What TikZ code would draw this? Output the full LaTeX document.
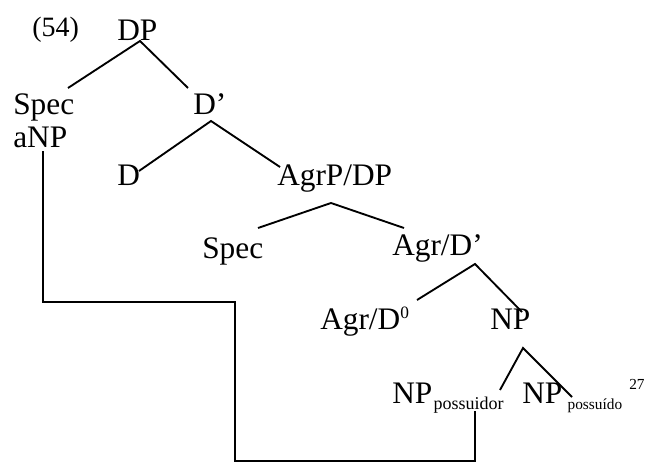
\documentclass[tikz,border=0pt]{standalone}
\usepackage{fontspec}
\setmainfont{Liberation Serif}
\begin{document}
\begin{tikzpicture}[x=0.75pt,y=-0.75pt,
  lbl/.style={inner sep=0pt,anchor=base west,font=\fontsize{23.5}{27}\selectfont},
  numlbl/.style={inner sep=0pt,anchor=base west,font=\fontsize{21}{25}\selectfont},
  branch/.style={line width=1.4pt},
  link/.style={line width=1.4pt,line cap=rect}]
\useasboundingbox (0,0) rectangle (660,463);
\newcommand{\subtxt}[2]{\raisebox{-4.5pt}{\fontsize{#1}{16}\selectfont #2}}

% labels
\node[numlbl] (ex) at (32,37) {(54)};
\node[lbl] (dp) at (117,41) {DP};
\node[lbl] (spec1) at (13,115) {Spec};
\node[lbl] (anp) at (13,148) {aNP};
\node[lbl] (dbar) at (193,115) {D’};
\node[lbl] (d) at (117,186) {D};
\node[lbl] (agrp) at (277,186) {AgrP/DP};
\node[lbl] (spec2) at (202,258) {Spec};
\node[lbl] (agrbar) at (392,256) {Agr/D’};
\node[lbl] (agrd) at (320,329) {Agr/D\raisebox{8pt}{\fontsize{13}{15}\selectfont 0}};
\node[lbl] (np) at (490,329) {NP};
\node[lbl] (npa) at (392,403) {NP\kern1pt\subtxt{13.5}{possuidor}};
\node[lbl] (npb) at (522,403) {NP\kern4pt\subtxt{11.5}{possuído}};
\node[inner sep=0pt,anchor=base west,font=\fontsize{11.5}{14}\selectfont] (fn) at (629,389) {27};

% branch points
\coordinate (dp-b) at (140,41);
\coordinate (spec1-t) at (68,88);
\coordinate (dbar-t) at (188,88);
\coordinate (dbar-b) at (211,121);
\coordinate (d-t) at (139,171);
\coordinate (agrp-t) at (280,167);
\coordinate (agrp-b) at (331,203);
\coordinate (spec2-t) at (258,228);
\coordinate (agrbar-t) at (404,228);
\coordinate (agrbar-b) at (475,264);
\coordinate (agrd-t) at (417,300);
\coordinate (np-t) at (522,312);
\coordinate (np-b) at (523,348);
\coordinate (npa-t) at (500,390);
\coordinate (npb-t) at (572,397);

% tree branches
\draw[branch] (spec1-t) -- (dp-b) -- (dbar-t);
\draw[branch] (d-t) -- (dbar-b) -- (agrp-t);
\draw[branch] (spec2-t) -- (agrp-b) -- (agrbar-t);
\draw[branch] (agrd-t) -- (agrbar-b) -- (np-t);
\draw[branch] (npa-t) -- (np-b) -- (npb-t);

% connecting line from aNP to the possessor
\coordinate (anp-b) at (43,152);
\coordinate (npa-b) at (475,412);
\draw[link] (anp-b) -- (43,302) -- (235,302) -- (235,461) -- (475,461) -- (npa-b);
\end{tikzpicture}
\end{document}
